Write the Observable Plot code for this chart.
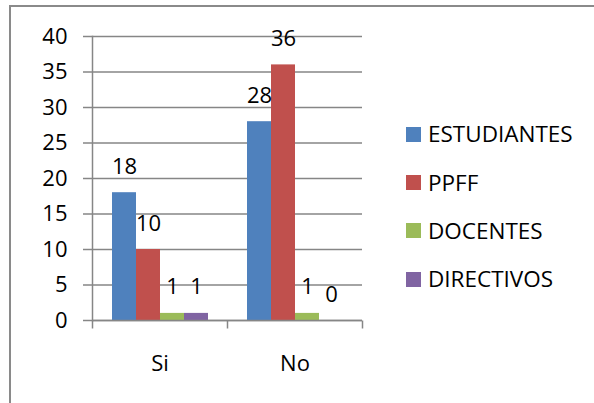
<!DOCTYPE html>
<html>
<head>
<meta charset="utf-8">
<script src="https://cdn.jsdelivr.net/npm/d3@7"></script>
<script src="https://cdn.jsdelivr.net/npm/@observablehq/plot@0.6"></script>
<style>
  html, body { margin: 0; padding: 0; background: #fff; overflow: hidden; }
  #wrap { position: relative; width: 594px; height: 403px; overflow: hidden; font-family: "Open Sans", sans-serif; }
  #border { position: absolute; left: 9px; top: 5px; width: 700px; height: 500px; border-left: 2px solid #8a8a8a; border-top: 2px solid #8a8a8a; pointer-events: none; }
  #legend { position: absolute; left: 406px; top: 0; }
  .item { position: absolute; left: 0; white-space: nowrap; display: flex; align-items: center; height: 30px; }
  .sw { width: 15px; height: 15px; margin-right: 7px; }
  .lab { font-size: 22.5px; color: #000; line-height: 30px; }
  #chart { position: absolute; left: 0; top: 0; }
</style>
</head>
<body>
<div id="wrap">
  <div id="chart"></div>
  <div id="legend"></div>
  <div id="border"></div>
</div>
<script>
const categories = ["Si", "No"];
const series = ["ESTUDIANTES", "PPFF", "DOCENTES", "DIRECTIVOS"];
const estudiantes = [18, 28];
const ppff = [10, 36];
const docentes = [1, 1];
const directivos = [1, 0];
const colors = ["#4F81BD", "#C0504D", "#9BBB59", "#8064A2"];
const yTicks = [0, 5, 10, 15, 20, 25, 30, 35, 40];

const seriesValues = [estudiantes, ppff, docentes, directivos];
const data = categories.flatMap((c, i) =>
  series.map((s, j) => ({ category: c, series: s, value: seriesValues[j][i] }))
);

const gray = "#868686";
const tickSymbol = { draw(context) { context.moveTo(0, 0); context.lineTo(0, 8); } };

const chart = Plot.plot({
  width: 594,
  height: 403,
  marginLeft: 92,
  marginRight: 232,
  marginTop: 36,
  marginBottom: 83,
  style: { fontFamily: "'Open Sans', sans-serif", fontSize: "22px", color: "#000", background: "transparent", overflow: "visible" },
  fx: { domain: categories, padding: 0, label: null },
  x: { domain: series, paddingInner: 0, paddingOuter: 0.765, axis: null },
  y: { domain: [0, 40] },
  color: { domain: series, range: colors },
  marks: [
    Plot.gridY(yTicks, { stroke: gray, strokeOpacity: 1, strokeWidth: 1.5 }),
    Plot.axisY(yTicks, { tickSize: 9, tickPadding: 16, stroke: gray, strokeWidth: 1.5, fill: "#000", label: null }),
    Plot.frame({ anchor: "left", facetAnchor: "left", stroke: gray, strokeWidth: 1.5 }),
    Plot.barY(data, { fx: "category", x: "series", y: "value", fill: "series" }),
    Plot.ruleY([0], { stroke: gray, strokeWidth: 1.5 }),
    Plot.dot(categories, { fx: d => d, frameAnchor: "bottom-left", symbol: tickSymbol, stroke: gray, strokeWidth: 1.5 }),
    Plot.dot(categories.slice(-1), { fx: d => d, frameAnchor: "bottom-right", symbol: tickSymbol, stroke: gray, strokeWidth: 1.5 }),
    Plot.text(data, { fx: "category", x: "series", y: "value", text: d => String(d.value), dy: -26, fill: "#000" }),
    Plot.axisFx({ anchor: "bottom", tickSize: 0, tickPadding: 35, label: null, fill: "#000" })
  ]
});
document.getElementById("chart").appendChild(chart);

const legendCenters = [134, 182.5, 230.5, 279];
const legend = document.getElementById("legend");
series.forEach((s, i) => {
  const item = document.createElement("div");
  item.className = "item";
  item.style.top = (legendCenters[i] - 15) + "px";
  const sw = document.createElement("div");
  sw.className = "sw";
  sw.style.background = colors[i];
  const lab = document.createElement("span");
  lab.className = "lab";
  lab.textContent = s;
  item.appendChild(sw);
  item.appendChild(lab);
  legend.appendChild(item);
});
</script>
</body>
</html>
